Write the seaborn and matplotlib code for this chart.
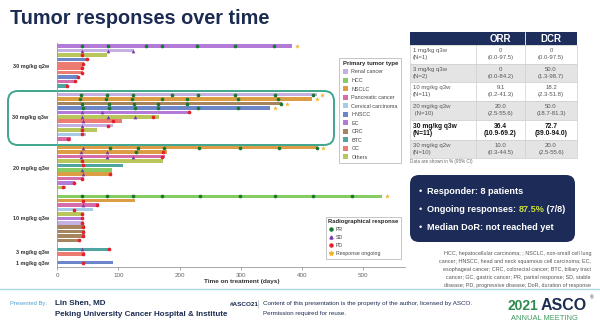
import numpy as np
import pandas as pd
import matplotlib
matplotlib.use("Agg")
import matplotlib.pyplot as plt
import seaborn as sns
from matplotlib.patches import FancyBboxPatch, Rectangle, Patch
from matplotlib.lines import Line2D

# ---------------- data ----------------
dose_groups = ["30 mg/kg q2w", "30 mg/kg q3w", "20 mg/kg q3w",
               "10 mg/kg q3w", "3 mg/kg q3w", "1 mg/kg q3w"]
group_sizes = [10, 11, 10, 11, 2, 1]

tumor_types = ["Renal cancer", "HCC", "NSCLC", "Pancreatic cancer",
               "Cervical carcinoma", "HNSCC", "EC", "CRC", "BTC", "GC", "Others"]
tumor_colors = ["#c4b0e2", "#86cc62", "#dc9d45", "#d66dab", "#a9cbea",
                "#6b86c9", "#b37ad8", "#a6845e", "#4fa5a2", "#ec7b72", "#b8c65c"]

tumor = [
    "EC", "Renal cancer", "Others", "HNSCC", "GC", "GC", "GC", "HNSCC",
    "Pancreatic cancer", "BTC",
    "Renal cancer", "NSCLC", "CRC", "HNSCC", "EC", "Others", "GC",
    "Renal cancer", "Others", "Cervical carcinoma", "Pancreatic cancer",
    "NSCLC", "NSCLC", "Pancreatic cancer", "Others", "BTC", "HCC", "NSCLC",
    "Pancreatic cancer", "EC", "Others",
    "HCC", "NSCLC", "Pancreatic cancer", "Cervical carcinoma", "Others", "EC",
    "Renal cancer", "CRC", "CRC", "CRC", "CRC",
    "BTC", "GC",
    "HNSCC",
]
duration = [
    383, 126, 82, 51, 44, 42, 42, 35, 31, 18,
    424, 417, 367, 347, 217, 166, 106, 92, 65, 48, 23,
    426, 180, 176, 173, 108, 89, 89, 44, 29, 15,
    530, 127, 69, 58, 44, 43, 44, 45, 45, 45, 39,
    86, 45,
    92,
]
pr_days = [
    [40, 83, 145, 172, 228, 290, 354], [], [], [], [], [], [], [], [], [],
    [39, 82, 124, 188, 230, 291, 356, 418], [37, 80, 123, 171, 212, 296, 360],
    [40, 85, 126, 165, 212, 365], [43, 85, 127, 165, 230, 295],
    [], [], [], [], [], [], [],
    [86, 132, 174, 232, 299, 363, 425], [129], [], [], [], [], [], [], [], [],
    [40, 82, 124, 172, 234, 299, 356, 418, 482], [], [], [], [], [], [], [], [], [], [],
    [], [],
    [],
]
sd_days = [
    [], [40, 83, 124], [], [], [], [], [], [], [], [],
    [], [], [], [], [40, 73], [40, 83, 127], [43], [40], [], [], [],
    [43], [39, 81], [39, 81, 124], [], [], [40], [43], [], [], [],
    [], [], [42], [], [], [], [], [], [], [], [],
    [40], [],
    [],
]
pd_days = [
    [], [], [40], [49], [42], [41], [40], [34], [29], [17],
    [], [], [], [], [215], [156], [91], [83], [40], [40], [18],
    [], [173], [171], [40], [42], [], [87], [41], [28], [9],
    [], [42], [66], [27], [40], [40], [41], [42], [42], [42], [36],
    [85], [42],
    [43],
]
ongoing = [
    1, 0, 0, 0, 0, 0, 0, 0, 0, 0,
    1, 1, 1, 1, 0, 0, 0, 0, 0, 0, 0,
    1, 0, 0, 0, 0, 0, 0, 0, 0, 0,
    1, 0, 0, 0, 0, 0, 0, 0, 0, 0, 0,
    0, 0,
    0,
]

table_labels = ["1 mg/kg q3w", "3 mg/kg q3w", "10 mg/kg q3w",
                "20 mg/kg q3w", "30 mg/kg q3w", "30 mg/kg q2w"]
table_n = ["(N=1)", "(N=2)", "(N=11)", " (N=10)", "(N=11)", "(N=10)"]
orr_vals = ["0", "0", "9.1", "20.0", "36.4", "10.0"]
orr_ci = ["(0.0-97.5)", "(0.0-84.2)", "(0.2-41.3)", "(2.5-55.6)", "(10.9-69.2)", "(0.3-44.5)"]
dcr_vals = ["0", "50.0", "18.2", "50.0", "72.7", "20.0"]
dcr_ci = ["(0.0-97.5)", "(1.3-98.7)", "(2.3-51.8)", "(18.7-81.3)", "(39.0-94.0)", "(2.5-55.6)"]

footnote = ["HCC, hepatocellular carcinoma; ; NSCLC, non-small cell lung",
            "cancer; HNSCC, head and neck squamous cell carcinoma; EC,",
            "esophageal cancer; CRC, colorectal cancer; BTC, biliary tract",
            "cancer; GC, gastric cancer; PR, partial response; SD, stable",
            "disease; PD, progressive disease; DoR, duration of response"]

# ---------------- layout ----------------
sns.set_theme(style="white")
plt.rcParams["font.family"] = ["Liberation Sans", "DejaVu Sans"]

NAVY = "#1c2b52"
fig = plt.figure(figsize=(6, 3.25), dpi=100)

bg = fig.add_axes([0, 0, 1, 1], zorder=-1)
bg.set_xlim(0, 600)
bg.set_ylim(325, 0)
bg.axis("off")

ax = fig.add_axes([57 / 600, 1 - 267 / 325, 348 / 600, 224 / 325])
ax.patch.set_alpha(0)

# slot positions (one empty slot between groups)
slots, gap_slots, centers = [], [], []
s = 0
for gi, n in enumerate(group_sizes):
    rows = list(range(s, s + n))
    slots += rows
    centers.append((rows[0] + rows[-1]) / 2)
    s += n
    if gi < len(group_sizes) - 1:
        gap_slots.append(s)
        s += 1

df = pd.DataFrame({"slot": slots, "duration": duration, "tumor": tumor})
palette = dict(zip(tumor_types, tumor_colors))
sns.barplot(data=df, x="duration", y="slot", hue="tumor", hue_order=tumor_types,
            palette=palette, orient="y", native_scale=True, dodge=False,
            width=0.8, saturation=1, errorbar=None, legend=False, ax=ax,
            linewidth=0)

recs = []
for sl, prs, sds, pds, og, d in zip(slots, pr_days, sd_days, pd_days, ongoing, duration):
    recs += [(sl, v, "PR") for v in prs]
    recs += [(sl, v, "SD") for v in sds]
    recs += [(sl, v, "PD") for v in pds]
    if og:
        recs.append((sl, d + 8, "Response ongoing"))
marks = pd.DataFrame(recs, columns=["slot", "day", "resp"])

mstyle = {"PR": ("o", "#17782e", 7),
          "SD": ("^", "#7b3aa3", 7),
          "PD": ("o", "#e4202c", 7),
          "Response ongoing": ("*", "#f4b52e", 14)}
for resp, (mk, col, sz) in mstyle.items():
    sub = marks[marks["resp"] == resp]
    sns.scatterplot(data=sub, x="day", y="slot", marker=mk, color=col, s=sz,
                    linewidth=0, ax=ax, legend=False, zorder=3)

ax.set_ylim(50, -0.7)
ax.set_xlim(0, 568)
ax.set_yticks(gap_slots)
ax.set_yticklabels([])
ax.set_yticks(centers, minor=True)
ax.set_yticklabels(dose_groups, minor=True, fontweight="bold")
ax.tick_params(axis="y", which="major", length=2, width=0.5, color="#888")
ax.tick_params(axis="y", which="minor", length=0, pad=6, labelsize=4, labelcolor="#333")
ax.set_xticks([0, 100, 200, 300, 400, 500])
ax.tick_params(axis="x", length=2, width=0.5, color="#888", labelsize=4.5,
               labelcolor="#666", pad=2, bottom=True)
ax.set_ylabel("")
ax.set_xlabel("Time on treatment (days)", fontsize=4.6, fontweight="bold", color="#333")
ax.xaxis.set_label_coords(0.53, -0.055)
for side in ["top", "right"]:
    ax.spines[side].set_visible(False)
for side in ["left", "bottom"]:
    ax.spines[side].set_color("#999")
    ax.spines[side].set_linewidth(0.6)

# legends
h1 = [Patch(facecolor=c, edgecolor="none", label=t) for t, c in zip(tumor_types, tumor_colors)]
leg1 = ax.legend(handles=h1, title="Primary tumor type", loc="upper right",
                 bbox_to_anchor=(404 / 600, 1 - 55 / 325), bbox_transform=fig.transFigure,
                 fontsize=3.9, title_fontsize=4.3, frameon=True, fancybox=False,
                 edgecolor="#aaa", borderpad=0.6, labelspacing=0.6, handlelength=1.0,
                 handleheight=1.0, handletextpad=0.6, alignment="left")
leg1.get_title().set_fontweight("bold")
leg1.get_frame().set_linewidth(0.6)
for t in leg1.get_texts():
    t.set_color("#444")
ax.add_artist(leg1)

h2 = [Line2D([], [], marker=mstyle[k][0], color=mstyle[k][1], linestyle="none",
             markersize=2.2 if k != "Response ongoing" else 3.2, label=k)
      for k in ["PR", "SD", "PD", "Response ongoing"]]
leg2 = ax.legend(handles=h2, title="Radiographical response", loc="upper right",
                 bbox_to_anchor=(404 / 600, 1 - 214 / 325), bbox_transform=fig.transFigure,
                 fontsize=3.8, title_fontsize=4.2, frameon=True, fancybox=False,
                 edgecolor="#aaa", borderpad=0.5, labelspacing=0.55, handlelength=0.8,
                 handletextpad=0.6, alignment="left")
leg2.get_title().set_fontweight("bold")
leg2.get_frame().set_linewidth(0.6)
for t in leg2.get_texts():
    t.set_color("#444")

# highlight box around 30 mg/kg q3w
bg.add_patch(FancyBboxPatch((8, 91), 326, 54, boxstyle="round,pad=0,rounding_size=10",
                            fc="none", ec="#3fa68e", lw=1.4))

# title
bg.text(10, 19, "Tumor responses over time", fontsize=14.3, fontweight="bold",
        color=NAVY, va="center", ha="left")

# table
tx = [410, 476, 525, 577]
ty = [32, 45, 64, 82, 101, 120, 140, 158]
bg.add_patch(Rectangle((tx[0], ty[0]), tx[-1] - tx[0], ty[1] - ty[0], fc="#1d2d5c", ec="none"))
bg.text((tx[1] + tx[2]) / 2, (ty[0] + ty[1]) / 2 + 0.5, "ORR", color="white", fontsize=7,
        fontweight="bold", ha="center", va="center")
bg.text((tx[2] + tx[3]) / 2, (ty[0] + ty[1]) / 2 + 0.5, "DCR", color="white", fontsize=7,
        fontweight="bold", ha="center", va="center")
bg.plot([tx[2], tx[2]], [ty[0], ty[1]], color="white", lw=0.6)
for i in range(6):
    y0, y1 = ty[i + 1], ty[i + 2]
    bg.add_patch(Rectangle((tx[0], y0), tx[-1] - tx[0], y1 - y0,
                           fc="white" if i % 2 == 0 else "#e4e4e4", ec="#cfcfcf", lw=0.5))
    bold = (i == 4)
    fw = "bold" if bold else "normal"
    col = "#111" if bold else "#555"
    fs = 4.8 if bold else 4.3
    h = y1 - y0
    l1, l2 = y0 + h * 0.3, y0 + h * 0.68
    bg.text(tx[0] + 3, l1, table_labels[i], fontsize=fs, fontweight=fw, color=col, va="center")
    bg.text(tx[0] + 3, l2, table_n[i], fontsize=fs, fontweight=fw, color=col, va="center")
    for cx, v, ci in [((tx[1] + tx[2]) / 2, orr_vals[i], orr_ci[i]),
                      ((tx[2] + tx[3]) / 2, dcr_vals[i], dcr_ci[i])]:
        bg.text(cx, l1, v, fontsize=fs, fontweight=fw, color=col, ha="center", va="center")
        bg.text(cx, l2, ci, fontsize=fs, fontweight=fw, color=col, ha="center", va="center")
for xx in tx[1:3]:
    bg.plot([xx, xx], [ty[1], ty[-1]], color="#cfcfcf", lw=0.5)
bg.text(tx[0], 161.5, "Data are shown in % (95% CI)", fontsize=3.3, color="#666", va="center")

# summary box
bg.add_patch(FancyBboxPatch((410, 175), 165, 67, boxstyle="round,pad=0,rounding_size=9",
                            fc="#1c2b57", ec="none"))
bullets_y = [191.5, 209.5, 227]
for yy in bullets_y:
    bg.text(419, yy, "\u2022", color="white", fontsize=6.5, va="center", ha="left")
bg.text(427, bullets_y[0], "Responder: 8 patients", color="white", fontsize=6.6,
        fontweight="bold", va="center")
t1 = bg.text(427, bullets_y[1], "Ongoing responses: ", color="white", fontsize=6.6,
             fontweight="bold", va="center")
bg.text(427, bullets_y[2], "Median DoR: not reached yet", color="white", fontsize=6.6,
        fontweight="bold", va="center")
fig.canvas.draw()
r = fig.canvas.get_renderer()
bb = t1.get_window_extent(r)
xe = bg.transData.inverted().transform((bb.x1, bb.y0))[0]
t2 = bg.text(xe, bullets_y[1], "87.5%", color="#c9e03a", fontsize=6.6, fontweight="bold", va="center")
bb2 = t2.get_window_extent(r)
xe2 = bg.transData.inverted().transform((bb2.x1, bb2.y0))[0]
bg.text(xe2, bullets_y[1], " (7/8)", color="white", fontsize=6.6, fontweight="bold", va="center")

# footnote
for k, line in enumerate(footnote):
    bg.text(591, 253.5 + k * 7.9, line, fontsize=3.9, color="#555", ha="right", va="center")

# separator line
bg.plot([0, 600], [289, 289], color="#a9dbe0", lw=1.0)

# footer
bg.text(10, 304, "Presented By:", fontsize=4.2, color="#4a9fd0", va="center")
bg.text(55, 303.5, "Lin Shen, MD", fontsize=5.8, color=NAVY, fontweight="bold", va="center")
bg.text(55, 314, "Peking University Cancer Hospital & Institute", fontsize=5.8, color=NAVY,
        fontweight="bold", va="center")
bg.text(230, 304, "#ASCO21", fontsize=4.6, color=NAVY, fontweight="bold", va="center")
bg.plot([258, 258], [300, 308], color="#bbb", lw=0.5)
bg.text(263, 304, "Content of this presentation is the property of the author, licensed by ASCO.",
        fontsize=4.5, color=NAVY, va="center")
bg.text(263, 313, "Permission required for reuse.", fontsize=4.5, color=NAVY, va="center")
bg.text(508, 310, "2021", fontsize=10, color="#2e8a4e", fontweight="bold", va="baseline")
bg.text(541, 310, "ASCO", fontsize=11.5, color=NAVY, fontweight="bold", va="baseline")
bg.text(590, 298, "\u00ae", fontsize=3.5, color=NAVY, va="center")
bg.text(511, 318, "ANNUAL MEETING", fontsize=5.4, color="#3f9a62", va="center")

fig.savefig("out.png", dpi=100)
